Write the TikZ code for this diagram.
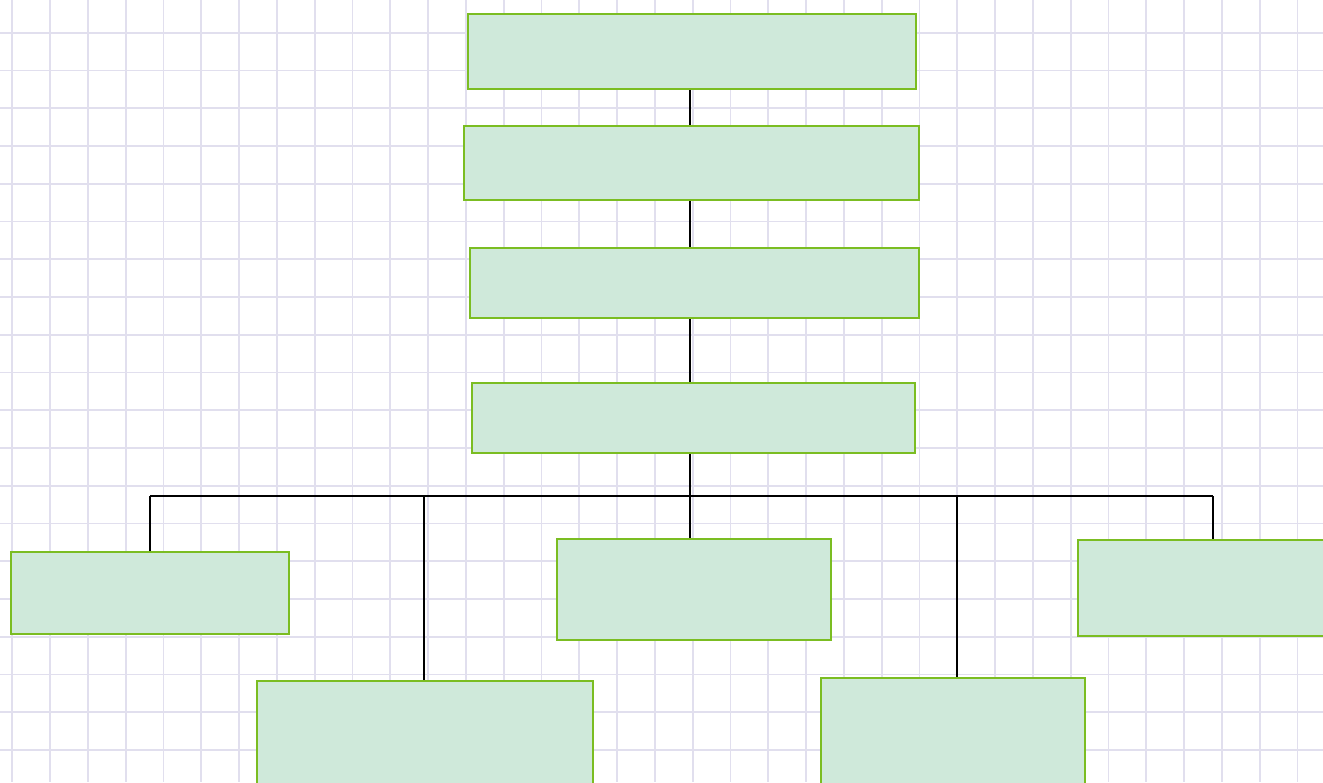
\documentclass[tikz,border=0pt]{standalone}
\usepackage{xcolor}
\usetikzlibrary{fit}
\definecolor{gridx}{HTML}{E1DFEE}
\definecolor{leafx}{HTML}{7BBD22}
\definecolor{mintx}{HTML}{CFE9DA}
\begin{document}
\begin{tikzpicture}[
  x=0.02646cm, y=-0.02646cm,
  box/.style={rectangle, draw=leafx, line width=1.5pt, fill=mintx, inner sep=0pt},
  link/.style={draw=black, line width=1pt},
]
\clip (0,0) rectangle (1323,782);
\fill[white] (0,0) rectangle (1323,782);
% grid paper
\foreach \gx in {0,...,34}
  \draw[gridx, line width=1.4pt] (12.3+37.8*\gx,0) -- ++(0,782);
\foreach \gy in {0,...,19}
  \draw[gridx, line width=1.4pt] (0,32.7+37.75*\gy) -- ++(1323,0);

% trunk and bus points
\coordinate (trunk) at (690,0);
\coordinate (j1) at (150,496);
\coordinate (j2) at (424,496);
\coordinate (j3) at (690,496);
\coordinate (j4) at (957,496);
\coordinate (j5) at (1213,496);

% chain
\node[box, fit={(468,14) (916,89)}]   (b1) {};
\node[box, fit={(464,126) (919,200)}] (b2) {};
\node[box, fit={(470,248) (919,318)}] (b3) {};
\node[box, fit={(472,383) (915,453)}] (b4) {};

% children
\node[box, fit={(11,552) (289,634)}]    (c1) {};
\node[box, fit={(257,681) (593,800)}]   (c2) {};
\node[box, fit={(557,539) (831,640)}]   (c3) {};
\node[box, fit={(821,678) (1085,800)}]  (c4) {};
\node[box, fit={(1078,540) (1340,636)}] (c5) {};

\draw[link] (b1.south -| trunk) -- (b2.north -| trunk);
\draw[link] (b2.south -| trunk) -- (b3.north -| trunk);
\draw[link] (b3.south -| trunk) -- (b4.north -| trunk);
\draw[link] (b4.south -| trunk) -- (j3);
\draw[link] (j1) -- (j5);
\draw[link] (j1) -- (c1.north -| j1);
\draw[link] (j2) -- (c2.north -| j2);
\draw[link] (j3) -- (c3.north -| j3);
\draw[link] (j4) -- (c4.north -| j4);
\draw[link] (j5) -- (c5.north -| j5);
\end{tikzpicture}
\end{document}
